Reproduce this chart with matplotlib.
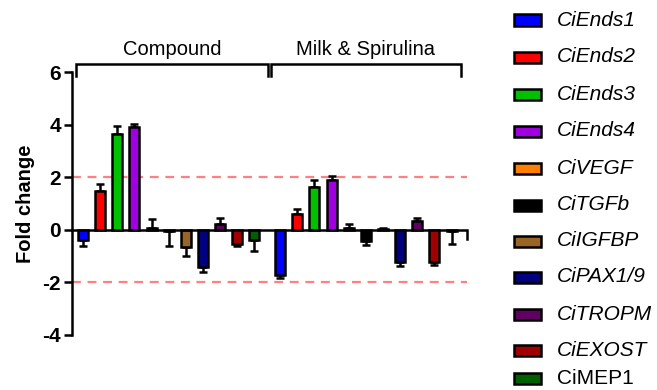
import numpy as np
import matplotlib
matplotlib.use('Agg')
import matplotlib.pyplot as plt
from matplotlib.patches import Rectangle

plt.rcParams['font.family'] = ['Liberation Sans', 'DejaVu Sans']

genes = ['CiEnds1', 'CiEnds2', 'CiEnds3', 'CiEnds4', 'CiVEGF', 'CiTGFb',
         'CiIGFBP', 'CiPAX1/9', 'CiTROPM', 'CiEXOST', 'CiMEP1']
colors = ['#0000FF', '#FF0000', '#00C000', '#A000E0', '#FF8000', '#000000',
          '#9A6424', '#000080', '#600060', '#A00000', '#006000']
groups = ['Compound', 'Milk & Spirulina']

# fold change (mean) and error for each gene, per treatment
compound_fc = [-0.40, 1.46, 3.65, 3.90, 0.05, -0.05, -0.66, -1.40, 0.22, -0.53, -0.38]
compound_err = [0.20, 0.30, 0.30, 0.13, 0.35, 0.55, 0.35, 0.22, 0.22, 0.10, 0.44]
milk_fc = [-1.71, 0.61, 1.62, 1.88, 0.05, -0.44, 0.04, -1.23, 0.32, -1.23, -0.05]
milk_err = [0.13, 0.19, 0.26, 0.15, 0.18, 0.13, 0.02, 0.14, 0.12, 0.10, 0.50]

W, H = 657, 390
fig = plt.figure(figsize=(W / 100, H / 100), dpi=100)
ax = fig.add_axes([72 / W, (H - 335) / H, (467 - 72) / W, (335 - 72) / H])

x1 = np.arange(len(genes))
x2 = x1 + 11.5
bw = 0.58
for xs, fc, err in [(x1, compound_fc, compound_err), (x2, milk_fc, milk_err)]:
    fc = np.array(fc)
    err = np.array(err)
    ax.bar(xs, fc, width=bw, color=colors, edgecolor='black', linewidth=1.8, zorder=3)
    # one-sided error bars, going the same way as the bar
    lo = np.where(fc < 0, err, 0)
    hi = np.where(fc >= 0, err, 0)
    ax.errorbar(xs, fc, yerr=[lo, hi], fmt='none', ecolor='black',
                elinewidth=1.8, capsize=3, capthick=1.8, zorder=2)

# threshold lines
for t in (2, -2):
    ax.axhline(t, color='#FF8080', linestyle=(0, (4, 3)), linewidth=1.6, zorder=1)

ax.set_xlim(-0.64, 22.4)
ax.set_ylim(-4, 6)
ax.set_yticks([-4, -2, 0, 2, 4, 6])
ax.set_yticklabels(['-4', '-2', '0', '2', '4', '6'])
ax.tick_params(axis='y', width=1.8, length=6, labelsize=15, pad=2)
for lab in ax.get_yticklabels():
    lab.set_fontweight('bold')
ax.set_xticks([])
ax.set_ylabel('Fold change', fontsize=14.5, fontweight='bold', labelpad=5)

for s in ['top', 'right', 'bottom']:
    ax.spines[s].set_visible(False)
ax.spines['left'].set_linewidth(1.8)

# x axis drawn through zero, with a tick at the right end
ax.plot([-0.64, 22.4, 22.4], [0, 0, -0.35], color='black', linewidth=1.8,
        clip_on=False, zorder=4, solid_joinstyle='miter')

# group brackets
brackets = [(-0.41, 10.79), (10.96, 22.04)]
for (a, b), name in zip(brackets, groups):
    ax.plot([a, a, b, b], [5.83, 6.29, 6.29, 5.83], color='black', linewidth=1.8,
            clip_on=False, solid_joinstyle='miter')
    ax.text((a + b) / 2, 6.5, name, ha='center', va='bottom', fontsize=14.5,
            clip_on=False)

# legend at right
leg_y = [20, 57, 94, 131, 168, 205, 241, 277, 314, 350, 378]
for name, c, yy in zip(genes, colors, leg_y):
    fig.add_artist(Rectangle((514 / W, (H - yy - 5.5) / H), 27 / W, 11 / H,
                             facecolor=c, edgecolor='black', linewidth=1.8,
                             transform=fig.transFigure))
    style = 'normal' if name == 'CiMEP1' else 'italic'
    fig.text(557 / W, (H - yy) / H, name, ha='left', va='center',
             fontsize=15, style=style)

fig.savefig('out.png', dpi=100)
